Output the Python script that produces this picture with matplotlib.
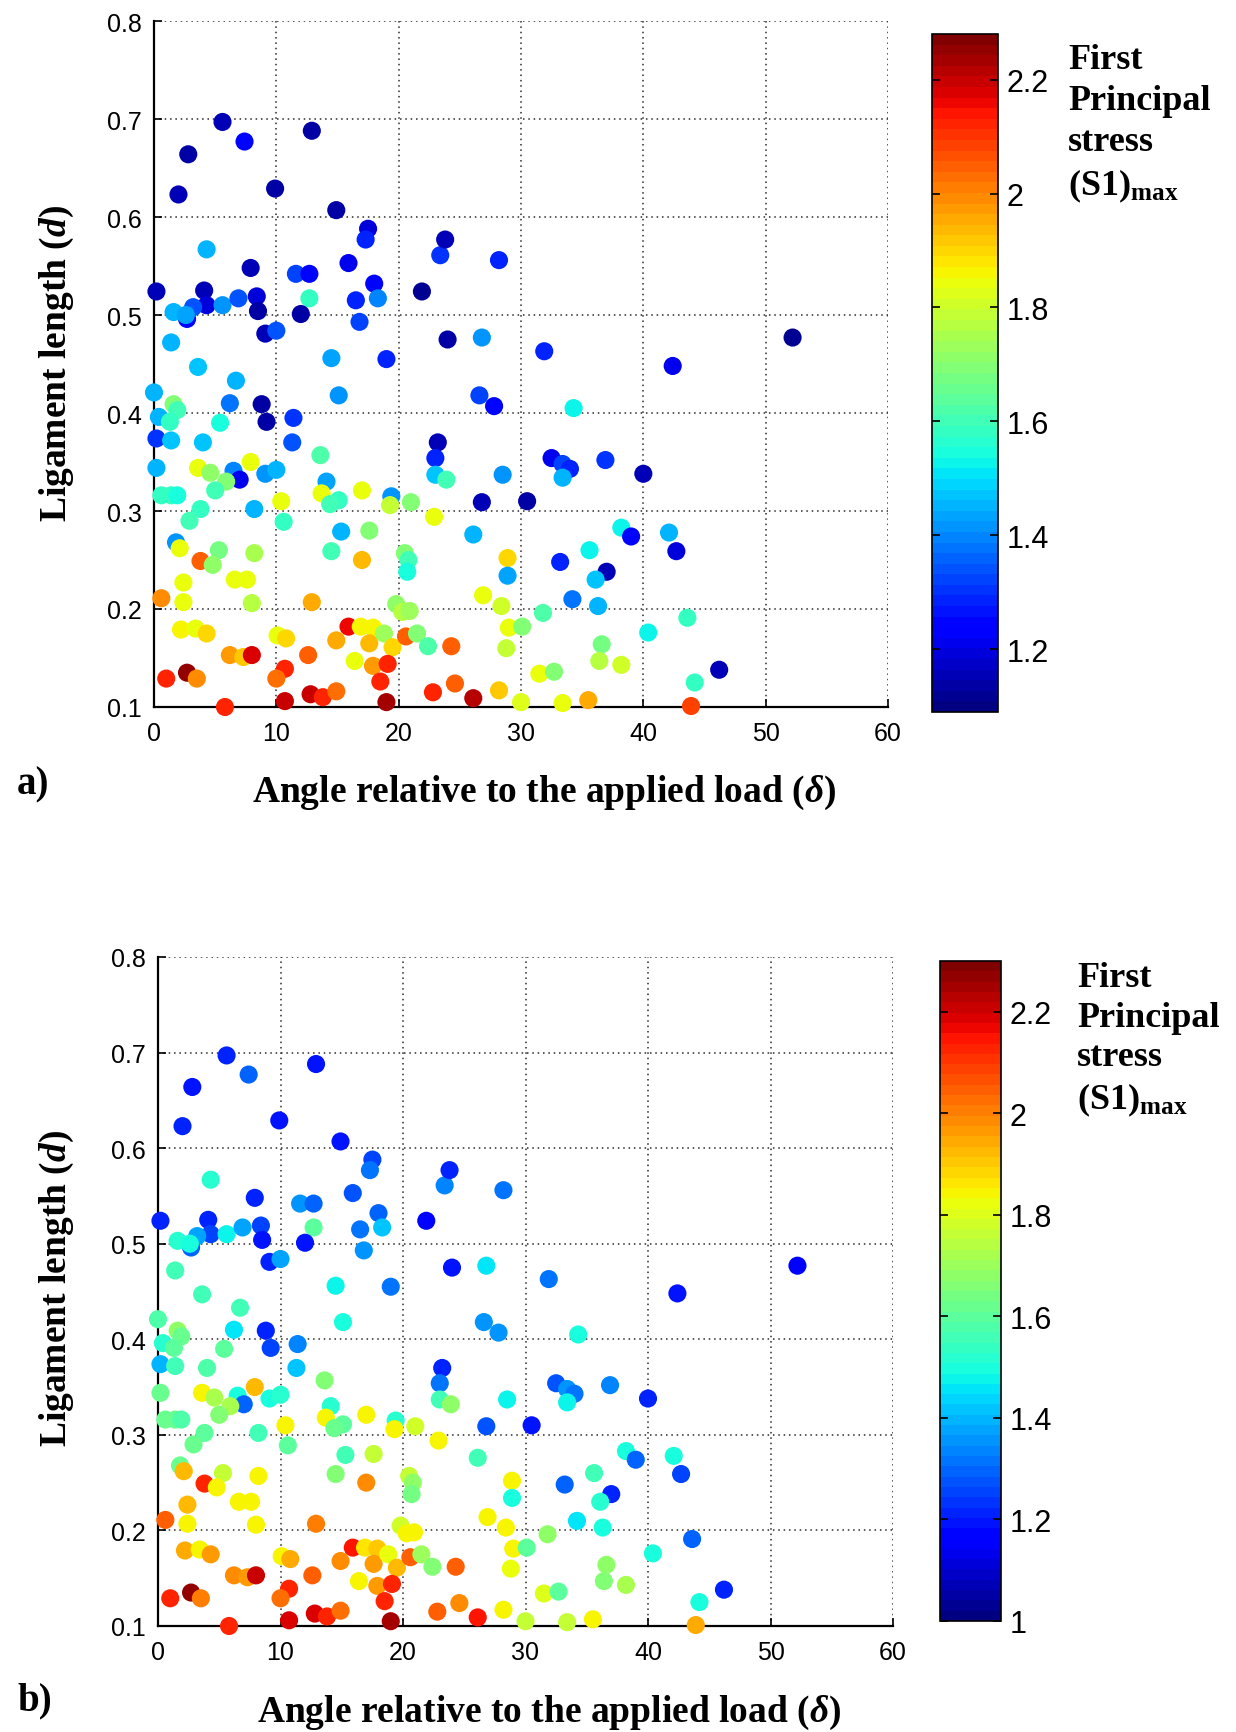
import numpy as np
import matplotlib
matplotlib.use("Agg")
import matplotlib.pyplot as plt
from matplotlib.ticker import FuncFormatter

# ---- data: crack angle (deg), ligament length, max first principal stress ----
angle = [
    5.6, 12.9, 7.4, 2.8, 2.0, 9.9, 14.9, 17.5, 17.3, 4.3,
    7.9, 11.6, 12.7, 15.9, 23.4, 23.8, 28.2, 18.0, 21.9, 0.2,
    4.1, 4.3, 3.2, 5.6, 6.9, 8.4, 8.5, 1.6, 2.7, 2.6,
    12.7, 12.0, 16.5, 18.3, 16.8, 9.1, 10.0, 1.4, 19.0, 14.5,
    3.6, 6.7, 0.0, 24.0, 26.8, 31.9, 42.4, 52.2, 26.6, 27.8,
    34.3, 15.1, 1.6, 1.9, 6.2, 8.8, 9.2, 11.4, 0.4, 1.3,
    0.2, 1.4, 5.4, 4.0, 11.3, 13.6, 0.2, 3.6, 4.6, 6.5,
    7.0, 7.9, 5.9, 5.0, 9.1, 10.0, 14.1, 13.7, 15.1, 14.4,
    17.0, 19.4, 19.3, 21.0, 10.4, 0.6, 1.4, 1.9, 3.8, 2.9,
    8.2, 10.6, 15.3, 17.6, 1.8, 2.1, 5.3, 8.2, 14.5, 3.8,
    4.8, 17.0, 20.5, 20.8, 20.7, 2.4, 6.6, 7.6, 0.6, 2.4,
    8.0, 12.9, 19.8, 20.3, 20.9, 2.2, 3.4, 4.3, 10.1, 10.8,
    15.9, 16.9, 17.9, 17.6, 18.8, 14.9, 19.5, 20.6, 21.5, 22.4,
    6.2, 7.3, 8.0, 12.6, 16.4, 17.9, 19.1, 1.0, 2.7, 3.5,
    10.7, 10.0, 18.5, 22.8, 12.8, 13.8, 14.9, 5.8, 10.7, 19.0,
    23.2, 23.0, 23.0, 23.9, 28.5, 26.8, 30.5, 32.5, 33.4, 34.0,
    33.4, 36.9, 40.0, 22.9, 26.1, 38.2, 39.0, 42.1, 42.7, 35.6,
    28.9, 28.9, 33.2, 37.0, 36.1, 26.9, 28.4, 34.2, 36.3, 31.8,
    43.6, 40.4, 29.0, 30.1, 24.3, 28.8, 36.6, 36.4, 38.2, 31.5,
    32.7, 44.2, 46.2, 24.6, 28.2, 26.1, 30.0, 33.4, 35.5, 43.9,
]
ligament = [
    0.697, 0.688, 0.677, 0.664, 0.623, 0.629, 0.607, 0.588, 0.577, 0.567,
    0.548, 0.542, 0.542, 0.553, 0.561, 0.577, 0.556, 0.532, 0.524, 0.524,
    0.525, 0.510, 0.508, 0.510, 0.517, 0.519, 0.504, 0.503, 0.496, 0.500,
    0.517, 0.501, 0.515, 0.517, 0.493, 0.481, 0.484, 0.472, 0.455, 0.456,
    0.447, 0.433, 0.421, 0.475, 0.477, 0.463, 0.448, 0.477, 0.418, 0.407,
    0.405, 0.418, 0.409, 0.403, 0.410, 0.409, 0.391, 0.395, 0.396, 0.391,
    0.374, 0.372, 0.390, 0.370, 0.370, 0.357, 0.344, 0.344, 0.339, 0.341,
    0.332, 0.350, 0.330, 0.321, 0.338, 0.342, 0.330, 0.318, 0.311, 0.307,
    0.321, 0.315, 0.306, 0.309, 0.310, 0.316, 0.316, 0.316, 0.302, 0.290,
    0.302, 0.289, 0.279, 0.280, 0.268, 0.262, 0.260, 0.257, 0.259, 0.249,
    0.245, 0.250, 0.257, 0.250, 0.238, 0.227, 0.230, 0.230, 0.211, 0.207,
    0.206, 0.207, 0.205, 0.197, 0.198, 0.179, 0.180, 0.175, 0.173, 0.170,
    0.182, 0.182, 0.181, 0.165, 0.175, 0.168, 0.161, 0.172, 0.175, 0.162,
    0.153, 0.151, 0.153, 0.153, 0.147, 0.142, 0.144, 0.129, 0.135, 0.129,
    0.139, 0.129, 0.126, 0.115, 0.113, 0.110, 0.116, 0.100, 0.106, 0.105,
    0.370, 0.354, 0.337, 0.332, 0.337, 0.309, 0.310, 0.354, 0.348, 0.343,
    0.334, 0.352, 0.338, 0.294, 0.276, 0.283, 0.274, 0.278, 0.259, 0.260,
    0.252, 0.234, 0.248, 0.238, 0.230, 0.214, 0.203, 0.210, 0.203, 0.196,
    0.191, 0.176, 0.181, 0.182, 0.162, 0.160, 0.164, 0.147, 0.143, 0.134,
    0.136, 0.125, 0.138, 0.124, 0.117, 0.109, 0.105, 0.104, 0.107, 0.101,
]
# (S1)max for case a)
s1_a = [
    1.16, 1.14, 1.25, 1.14, 1.16, 1.14, 1.14, 1.20, 1.28, 1.46,
    1.16, 1.33, 1.25, 1.22, 1.30, 1.16, 1.28, 1.25, 1.12, 1.16,
    1.16, 1.20, 1.35, 1.42, 1.35, 1.20, 1.14, 1.45, 1.25, 1.44,
    1.58, 1.14, 1.28, 1.39, 1.33, 1.16, 1.34, 1.46, 1.28, 1.44,
    1.48, 1.46, 1.45, 1.14, 1.42, 1.28, 1.22, 1.12, 1.32, 1.25,
    1.53, 1.42, 1.70, 1.60, 1.37, 1.14, 1.14, 1.30, 1.46, 1.58,
    1.30, 1.48, 1.55, 1.48, 1.35, 1.62, 1.46, 1.84, 1.72, 1.39,
    1.22, 1.84, 1.70, 1.60, 1.42, 1.45, 1.44, 1.84, 1.58, 1.60,
    1.85, 1.42, 1.78, 1.70, 1.84, 1.58, 1.58, 1.55, 1.58, 1.60,
    1.45, 1.58, 1.45, 1.70, 1.42, 1.84, 1.68, 1.75, 1.60, 2.05,
    1.72, 1.93, 1.70, 1.60, 1.55, 1.85, 1.84, 1.84, 2.00, 1.85,
    1.76, 1.95, 1.72, 1.77, 1.74, 1.87, 1.85, 1.90, 1.85, 1.90,
    2.15, 1.86, 1.87, 1.93, 1.74, 1.96, 1.90, 2.05, 1.70, 1.62,
    1.97, 1.92, 2.18, 2.05, 1.84, 1.97, 2.12, 2.13, 2.25, 2.00,
    2.13, 2.02, 2.12, 2.12, 2.20, 2.12, 2.02, 2.13, 2.20, 2.24,
    1.16, 1.28, 1.47, 1.60, 1.42, 1.16, 1.14, 1.22, 1.33, 1.28,
    1.45, 1.30, 1.16, 1.84, 1.45, 1.53, 1.25, 1.45, 1.20, 1.53,
    1.90, 1.44, 1.28, 1.16, 1.48, 1.84, 1.80, 1.37, 1.45, 1.62,
    1.58, 1.53, 1.84, 1.70, 2.05, 1.78, 1.68, 1.76, 1.80, 1.84,
    1.70, 1.58, 1.16, 2.05, 1.92, 2.22, 1.82, 1.84, 1.95, 2.08,
]
# (S1)max for case b)
s1_b = [
    1.22, 1.20, 1.30, 1.20, 1.22, 1.20, 1.20, 1.25, 1.32, 1.52,
    1.22, 1.36, 1.30, 1.27, 1.33, 1.22, 1.32, 1.30, 1.18, 1.22,
    1.22, 1.25, 1.38, 1.48, 1.38, 1.25, 1.20, 1.52, 1.30, 1.50,
    1.60, 1.20, 1.32, 1.42, 1.36, 1.22, 1.37, 1.55, 1.32, 1.47,
    1.56, 1.56, 1.58, 1.20, 1.45, 1.32, 1.20, 1.15, 1.35, 1.35,
    1.50, 1.50, 1.68, 1.62, 1.45, 1.22, 1.25, 1.33, 1.52, 1.60,
    1.40, 1.55, 1.60, 1.58, 1.42, 1.65, 1.62, 1.84, 1.72, 1.50,
    1.30, 1.92, 1.72, 1.65, 1.50, 1.52, 1.52, 1.84, 1.60, 1.62,
    1.85, 1.52, 1.84, 1.78, 1.84, 1.62, 1.62, 1.58, 1.60, 1.62,
    1.55, 1.60, 1.55, 1.76, 1.62, 1.93, 1.76, 1.84, 1.66, 2.12,
    1.84, 1.98, 1.76, 1.68, 1.64, 1.92, 1.84, 1.84, 2.05, 1.84,
    1.84, 2.00, 1.78, 1.84, 1.84, 1.95, 1.85, 1.96, 1.85, 1.95,
    2.15, 1.86, 1.90, 1.96, 1.82, 1.98, 1.92, 2.05, 1.70, 1.66,
    1.98, 1.96, 2.20, 2.05, 1.84, 1.97, 2.12, 2.13, 2.26, 2.00,
    2.13, 2.02, 2.12, 2.05, 2.18, 2.12, 2.02, 2.13, 2.18, 2.24,
    1.22, 1.32, 1.55, 1.68, 1.48, 1.28, 1.20, 1.27, 1.36, 1.32,
    1.48, 1.33, 1.22, 1.84, 1.56, 1.50, 1.30, 1.50, 1.25, 1.55,
    1.84, 1.50, 1.30, 1.22, 1.52, 1.84, 1.84, 1.45, 1.50, 1.68,
    1.30, 1.50, 1.84, 1.60, 2.05, 1.82, 1.68, 1.65, 1.72, 1.80,
    1.60, 1.50, 1.22, 1.98, 1.84, 2.15, 1.76, 1.76, 1.84, 1.95,
]

x_ticks = [0, 10, 20, 30, 40, 50, 60]
y_ticks = [0.1, 0.2, 0.3, 0.4, 0.5, 0.6, 0.7, 0.8]
cbar_ticks_a = [1.2, 1.4, 1.6, 1.8, 2.0, 2.2]
cbar_ticks_b = [1.0, 1.2, 1.4, 1.6, 1.8, 2.0, 2.2]
clim_a = (1.09, 2.28)
clim_b = (1.0, 2.3)

plt.rcParams["mathtext.fontset"] = "custom"
plt.rcParams["mathtext.rm"] = "Liberation Serif:bold"
plt.rcParams["mathtext.bf"] = "Liberation Serif:bold"
plt.rcParams["mathtext.it"] = "Liberation Serif:italic:bold"

W, H = 1236, 1733
fig = plt.figure(figsize=(W / 100, H / 100), dpi=100)
cmap = plt.get_cmap("jet", 64)

SERIF = dict(family="Liberation Serif", weight="bold")
fmt = FuncFormatter(lambda v, p: f"{v:g}")


def fx(px):
    return px / W


def fy(py):
    return 1 - py / H


def panel(ax_rect, cax_rect, values, clim, cticks, tag, tag_y, xlabel_xy,
          ylabel_xy, clabel_xy, clabel_spacing):
    ax = fig.add_axes(ax_rect)
    sc = ax.scatter(angle, ligament, c=values, cmap=cmap, vmin=clim[0],
                    vmax=clim[1], s=170, edgecolors="none", clip_on=False,
                    zorder=3)
    ax.set_xlim(0, 60)
    ax.set_ylim(0.1, 0.8)
    ax.set_xticks(x_ticks)
    ax.set_yticks(y_ticks)
    ax.yaxis.set_major_formatter(fmt)
    ax.grid(True, linestyle=(0, (1, 2.5)), color="#2a2a2a", linewidth=1.1)
    ax.set_axisbelow(True)
    for side in ("top", "right"):
        ax.spines[side].set_visible(False)
    for side in ("left", "bottom"):
        ax.spines[side].set_linewidth(1.6)
    ax.tick_params(direction="in", length=6, width=1.2, labelsize=18,
                   top=False, right=False)
    ax.tick_params(axis="y", pad=9)
    ax.tick_params(axis="x", pad=10)
    for lab in ax.get_xticklabels() + ax.get_yticklabels():
        lab.set_family("Liberation Sans")

    cax = fig.add_axes(cax_rect)
    cb = fig.colorbar(sc, cax=cax)
    cb.set_ticks(cticks)
    cb.ax.yaxis.set_major_formatter(fmt)
    cb.outline.set_linewidth(1.2)
    cb.ax.tick_params(direction="in", length=6, width=1.2, labelsize=22,
                      left=True, right=True, pad=6)
    for lab in cb.ax.get_yticklabels():
        lab.set_family("Liberation Sans")

    fig.text(fx(clabel_xy[0]), fy(clabel_xy[1]),
             "First\nPrincipal\nstress\n(S1)$_{\\mathrm{max}}$",
             ha="left", va="top", fontsize=26, linespacing=clabel_spacing,
             **SERIF)
    fig.text(fx(17), fy(tag_y), tag, ha="left", va="center", fontsize=28,
             **SERIF)
    fig.text(fx(xlabel_xy[0]), fy(xlabel_xy[1]),
             "Angle relative to the applied load ($\\delta$)",
             ha="center", va="center", fontsize=27, **SERIF)
    fig.text(fx(ylabel_xy[0]), fy(ylabel_xy[1]), "Ligament length ($d$)",
             ha="center", va="center", rotation=90, fontsize=27, **SERIF)
    return ax


panel([fx(154), fy(708), fx(888) - fx(154), fy(22) - fy(708)],
      [fx(932), fy(713), fx(998) - fx(932), fy(35) - fy(713)],
      s1_a, clim_a, cbar_ticks_a, "a)", 785, (544, 793), (57, 363),
      (1068, 44), 1.32)

panel([fx(158), fy(1627), fx(893) - fx(158), fy(958) - fy(1627)],
      [fx(940), fy(1622), fx(1001) - fx(940), fy(962) - fy(1622)],
      s1_b, clim_b, cbar_ticks_b, "b)", 1701, (549, 1713), (57, 1288),
      (1077, 962), 1.27)

fig.savefig("out.png", dpi=100, facecolor="white")
